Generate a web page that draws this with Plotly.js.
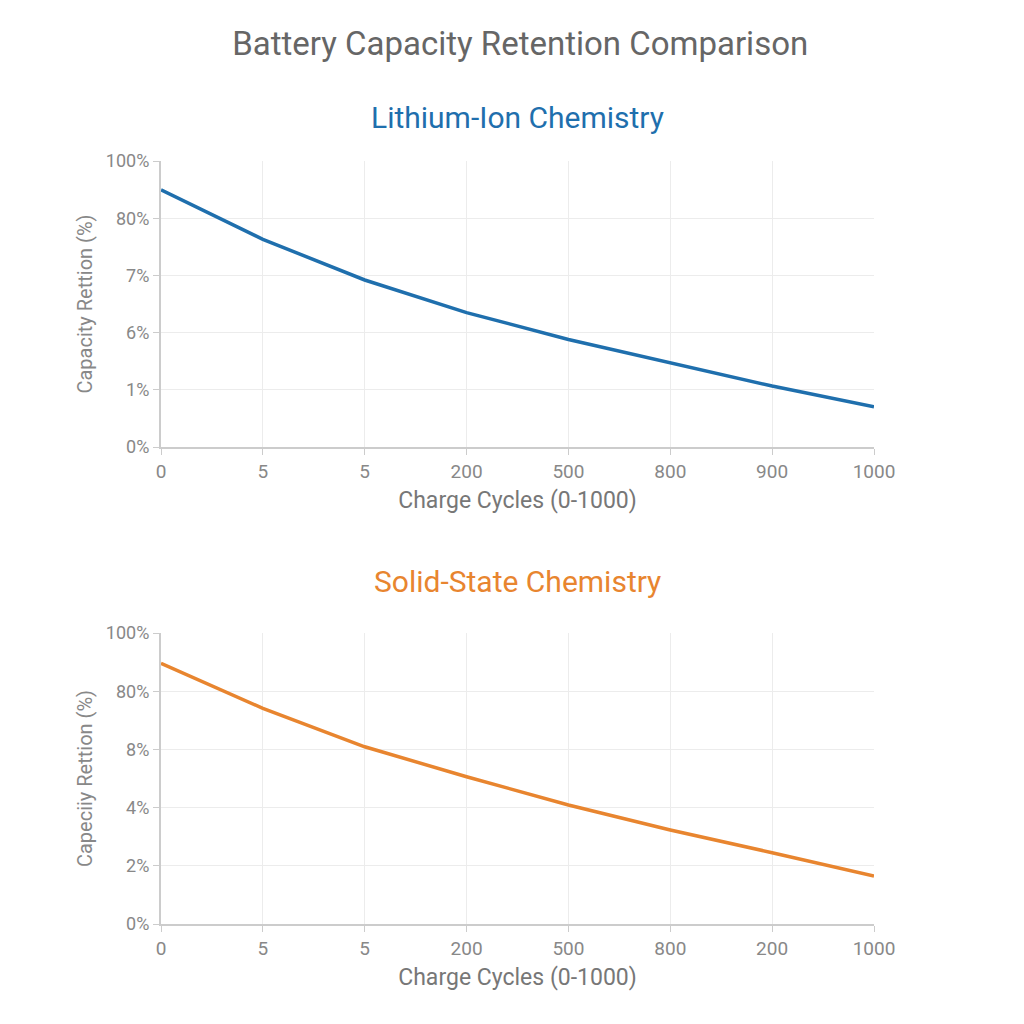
<!DOCTYPE html>
<html>
<head>
<meta charset="utf-8">
<script src="https://cdn.plot.ly/plotly-3.0.1.min.js"></script>
<style>
  html, body { margin: 0; padding: 0; background: #ffffff; }
  #chart { width: 1024px; height: 1024px; }
</style>
</head>
<body>
<div id="chart"></div>
<script>
// Cycle positions and their axis labels
const cyclePositions = [0, 1, 2, 3, 4, 5, 6, 7];
const liIonCycleLabels = ["0", "5", "5", "200", "500", "800", "900", "1000"];
const solidCycleLabels = ["0", "5", "5", "200", "500", "800", "200", "1000"];

// Capacity retention (%) at each cycle position
const liIonRetention = [89.9, 72.6, 58.4, 47.0, 37.6, 29.3, 21.3, 14.1];
const solidStateRetention = [89.6, 74.1, 60.9, 50.6, 40.9, 32.3, 24.5, 16.5];

// Y axis ticks
const retentionTickVals = [0, 20, 40, 60, 80, 100];
const liIonRetentionLabels = ["0%", "1%", "6%", "7%", "80%", "100%"];
const solidRetentionLabels = ["0%", "2%", "4%", "8%", "80%", "100%"];

const blue = "#1f6fad";
const orange = "#e8852f";
const fontFamily = "Roboto, 'Open Sans', sans-serif";

function xAxis(labels, anchor) {
  return {
    anchor: anchor,
    domain: [161 / 1024, 874 / 1024],
    range: [0, 7],
    tickmode: "array",
    tickvals: cyclePositions,
    ticktext: labels,
    showgrid: true,
    gridcolor: "#ececec",
    gridwidth: 1,
    showline: true,
    linecolor: "#cccccc",
    linewidth: 2,
    ticks: "outside",
    ticklen: 6,
    tickcolor: "#cccccc",
    tickfont: { family: fontFamily, size: 19, color: "#888888" },
    zeroline: false,
    fixedrange: true,
    title: { text: "Charge Cycles (0-1000)", font: { family: fontFamily, size: 23, color: "#777777" }, standoff: 10 }
  };
}

function yAxis(labels, anchor, domain, titleText) {
  return {
    anchor: anchor,
    domain: domain,
    range: [0, 100],
    tickmode: "array",
    tickvals: retentionTickVals,
    ticktext: labels,
    showgrid: true,
    gridcolor: "#ececec",
    gridwidth: 1,
    showline: true,
    linecolor: "#cccccc",
    linewidth: 2,
    ticks: "outside",
    ticklen: 6,
    tickcolor: "#cccccc",
    tickfont: { family: fontFamily, size: 18, color: "#888888" },
    zeroline: false,
    fixedrange: true,
    title: { text: titleText, font: { family: fontFamily, size: 20, color: "#888888" }, standoff: 8 }
  };
}

const traces = [
  {
    x: cyclePositions,
    y: liIonRetention,
    xaxis: "x",
    yaxis: "y",
    type: "scatter",
    mode: "lines",
    line: { color: blue, width: 3.5 },
    hoverinfo: "skip"
  },
  {
    x: cyclePositions,
    y: solidStateRetention,
    xaxis: "x2",
    yaxis: "y2",
    type: "scatter",
    mode: "lines",
    line: { color: orange, width: 3.5 },
    hoverinfo: "skip"
  }
];

const layout = {
  width: 1024,
  height: 1024,
  margin: { l: 0, r: 0, t: 0, b: 0 },
  paper_bgcolor: "#ffffff",
  plot_bgcolor: "#ffffff",
  showlegend: false,
  font: { family: fontFamily },
  title: {
    text: "Battery Capacity Retention Comparison",
    font: { family: fontFamily, size: 33, color: "#666666" },
    x: 0.508,
    xanchor: "center",
    y: 1 - 43 / 1024,
    yanchor: "middle",
    yref: "paper"
  },
  xaxis: xAxis(liIonCycleLabels, "y"),
  yaxis: yAxis(liIonRetentionLabels, "x", [1 - 447 / 1024, 1 - 161 / 1024], "Capacity Rettion (%)"),
  xaxis2: xAxis(solidCycleLabels, "y2"),
  yaxis2: yAxis(solidRetentionLabels, "x2", [1 - 924 / 1024, 1 - 633 / 1024], "Capeciiy Rettion (%)"),
  annotations: [
    {
      text: "Lithium-Ion Chemistry",
      xref: "paper", yref: "paper",
      x: 0.505, y: 1 - 117 / 1024,
      xanchor: "center", yanchor: "middle",
      showarrow: false,
      font: { family: fontFamily, size: 30, color: blue }
    },
    {
      text: "Solid-State Chemistry",
      xref: "paper", yref: "paper",
      x: 0.505, y: 1 - 581 / 1024,
      xanchor: "center", yanchor: "middle",
      showarrow: false,
      font: { family: fontFamily, size: 30, color: orange }
    }
  ]
};

Plotly.newPlot("chart", traces, layout, { displayModeBar: false, staticPlot: true });
</script>
</body>
</html>
